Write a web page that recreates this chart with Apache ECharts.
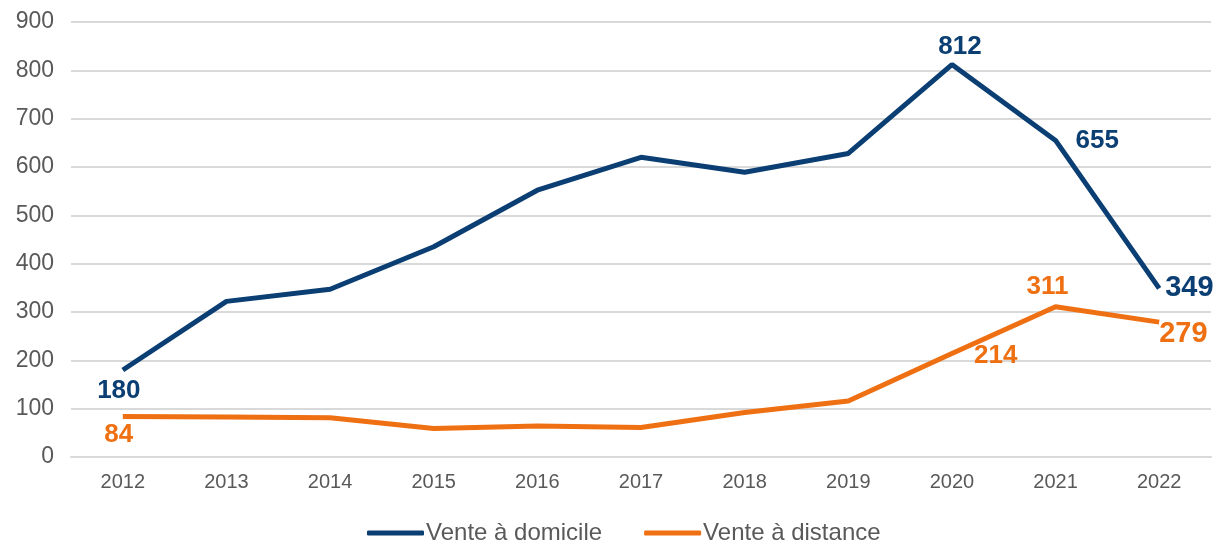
<!DOCTYPE html>
<html>
<head>
<meta charset="utf-8">
<script src="https://cdn.jsdelivr.net/npm/echarts@6/dist/echarts.min.js"></script>
<style>
  html, body { margin: 0; padding: 0; background: #fff; }
  #chart { width: 1221px; height: 543px; }
</style>
</head>
<body>
<div id="chart"></div>
<script>
const years = ['2012', '2013', '2014', '2015', '2016', '2017', '2018', '2019', '2020', '2021', '2022'];
const venteDomicile = [180, 322, 347, 435, 552, 620, 589, 628, 812, 655, 349];
const venteDistance = [84, 83, 81, 59, 64, 61, 92, 116, 214, 311, 279];
const yTicks = [0, 100, 200, 300, 400, 500, 600, 700, 800, 900];

const blue = '#0b3f73';
const orange = '#ef7012';
const font = 'Liberation Sans, Arial, sans-serif';

// which points get a value label, and where
const blueLabels = {
  0: { position: 'bottom', distance: 8, offset: [-4, 0] },
  8: { position: 'top', distance: 5, offset: [8, 0] },
  9: { position: 'right', distance: 20 },
  10: { position: 'right', distance: 6, fontSize: 29 }
};
const orangeLabels = {
  0: { position: 'bottom', distance: 5, offset: [-4, 0] },
  8: { position: 'right', distance: 22, offset: [0, 2] },
  9: { position: 'top', distance: 7, offset: [-8, 0] },
  10: { position: 'right', distance: 0, offset: [0, 12], fontSize: 29 }
};

function withLabels(values, cfg, color) {
  return values.map((v, i) => {
    const l = cfg[i];
    if (!l) return v;
    return {
      value: v,
      label: Object.assign({
        show: true,
        color: color,
        fontWeight: 'bold',
        fontSize: 26,
        fontFamily: font
      }, l)
    };
  });
}

const myChart = echarts.init(document.getElementById('chart'));
const option = {
  animation: false,
  grid: { left: 71, right: 10, top: 22, bottom: 86, containLabel: false },
  legend: {
    top: 516,
    left: 362,
    itemWidth: 57,
    itemHeight: 5,
    itemGap: 42,
    icon: 'roundRect',
    textStyle: { color: '#595959', fontSize: 24, fontFamily: font, padding: [0, 0, 0, -3] },
    data: ['Vente à domicile', 'Vente à distance']
  },
  xAxis: {
    type: 'category',
    data: years,
    boundaryGap: true,
    axisTick: { show: false },
    axisLine: { lineStyle: { color: '#d9d9d9', width: 2 } },
    axisLabel: { color: '#595959', fontSize: 20, margin: 15, fontFamily: font }
  },
  yAxis: {
    type: 'value',
    min: yTicks[0],
    max: yTicks[yTicks.length - 1],
    interval: 100,
    axisLine: { show: false },
    axisTick: { show: false },
    splitLine: { lineStyle: { color: '#d9d9d9', width: 2 } },
    axisLabel: { color: '#595959', fontSize: 23, margin: 17, fontFamily: font }
  },
  series: [
    {
      name: 'Vente à domicile',
      type: 'line',
      data: withLabels(venteDomicile, blueLabels, blue),
      symbol: 'circle',
      symbolSize: 0.1,
      showSymbol: true,
      lineStyle: { color: blue, width: 5 },
      itemStyle: { color: blue },
      z: 3
    },
    {
      name: 'Vente à distance',
      type: 'line',
      data: withLabels(venteDistance, orangeLabels, orange),
      symbol: 'circle',
      symbolSize: 0.1,
      showSymbol: true,
      lineStyle: { color: orange, width: 5 },
      itemStyle: { color: orange },
      z: 2
    }
  ]
};
option && myChart.setOption(option);
</script>
</body>
</html>
